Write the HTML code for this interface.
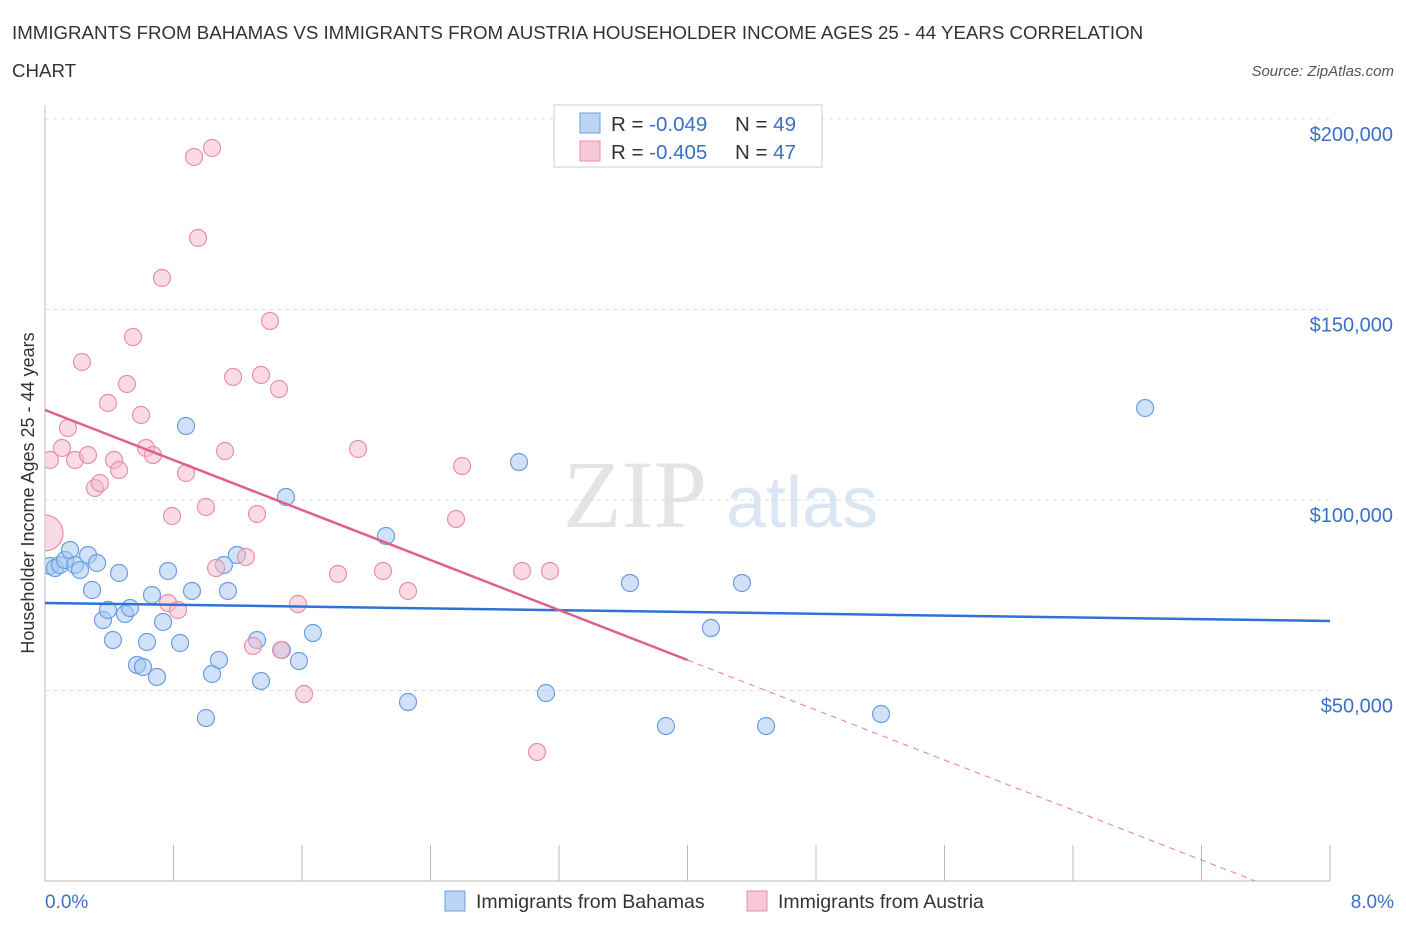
<!DOCTYPE html>
<html><head><meta charset="utf-8"><style>
body{margin:0;background:#fff;font-family:"Liberation Sans",sans-serif}
svg{display:block}
</style></head><body>
<svg id="c" width="1406" height="930" xmlns="http://www.w3.org/2000/svg">
<defs><clipPath id="pa"><rect x="45" y="100" width="1300" height="781"/></clipPath></defs>
<text x="12" y="39" font-size="18.7" fill="#333">IMMIGRANTS FROM BAHAMAS VS IMMIGRANTS FROM AUSTRIA HOUSEHOLDER INCOME AGES 25 - 44 YEARS CORRELATION</text>
<text x="12" y="77" font-size="18.7" fill="#333">CHART</text>
<text x="1394" y="76" font-size="15" fill="#555" font-style="italic" text-anchor="end">Source: ZipAtlas.com</text>
<g>
<text x="635" y="527" font-size="96" fill="#e4e4e4" font-family="Liberation Serif" text-anchor="middle">ZIP</text>
<text x="802" y="527" font-size="72" fill="#dbe6f5" text-anchor="middle">atlas</text>
</g>
<g id="grid"></g><g id="axes"></g><g id="pts" clip-path="url(#pa)"></g><g id="lines"></g>
<text transform="translate(34,493) rotate(-90)" font-size="18" fill="#333" text-anchor="middle">Householder Income Ages 25 - 44 years</text>
<text x="45" y="908" font-size="19" fill="#3a70c8">0.0%</text>
<text x="1394" y="908" font-size="19" fill="#3a70c8" text-anchor="end">8.0%</text>
<g>
<rect x="554" y="105" width="268" height="62" fill="#fff" stroke="#ccc"/>
<rect x="580" y="113" width="20" height="20" fill="#bcd5f5" stroke="#6a9fe0"/>
<text x="611" y="131" font-size="20.5" fill="#333">R = <tspan fill="#3a70c8">-0.049</tspan></text>
<text x="735" y="131" font-size="20.5" fill="#333">N = <tspan fill="#3a70c8">49</tspan></text>
<rect x="580" y="141" width="20" height="20" fill="#f8c8d6" stroke="#e890a8"/>
<text x="611" y="159" font-size="20.5" fill="#333">R = <tspan fill="#3a70c8">-0.405</tspan></text>
<text x="735" y="159" font-size="20.5" fill="#333">N = <tspan fill="#3a70c8">47</tspan></text>
</g>
<g>
<rect x="445" y="891" width="20" height="20" fill="#bcd5f5" stroke="#6a9fe0"/>
<text x="476" y="908" font-size="19.5" fill="#333">Immigrants from Bahamas</text>
<rect x="747" y="891" width="20" height="20" fill="#f8c8d6" stroke="#e890a8"/>
<text x="778" y="908" font-size="19.5" fill="#333">Immigrants from Austria</text>
</g>
</svg>
<script>
const yTicks=[50000,100000,150000,200000];
const yTickLabels=["$50,000","$100,000","$150,000","$200,000"];
const xTicks=[0,0.8,1.6,2.4,3.2,4.0,4.8,5.6,6.4,7.2,8.0];
const bahamasX=[0.031,0.062,0.093,0.125,0.156,0.187,0.218,0.268,0.293,0.324,0.361,0.392,0.423,0.461,0.498,0.529,0.573,0.610,0.635,0.666,0.697,0.735,0.766,0.841,0.878,0.915,1.002,1.040,1.083,1.114,1.139,1.195,1.320,1.345,1.475,1.500,1.581,1.668,2.123,2.260,2.951,3.119,3.642,3.866,4.146,4.339,4.489,5.205,6.849];
const bahamasY=[82680,82150,82940,84250,86880,82940,81630,85570,76380,83470,68500,71130,63250,80840,70080,71650,56700,56170,62730,75070,53550,67980,81370,62470,119420,76120,42780,54330,58010,82940,76120,85570,63250,52500,60630,100790,57740,65090,90550,46980,109970,49340,78220,40680,66400,78220,40680,43830,124150];
const austriaX=[0,0.031,0.106,0.143,0.187,0.230,0.268,0.311,0.342,0.392,0.430,0.461,0.510,0.548,0.598,0.629,0.672,0.728,0.766,0.791,0.828,0.878,0.928,0.953,1.002,1.040,1.065,1.121,1.171,1.251,1.295,1.320,1.345,1.401,1.457,1.470,1.575,1.613,1.824,1.949,2.104,2.260,2.559,2.597,2.970,3.063,3.144];
const austriaY=[91340,110500,113650,118900,110500,136220,111810,103150,104460,125460,110500,107870,130450,142780,122310,113650,111810,158270,72970,95800,71130,107090,190030,168770,98160,192390,82150,112860,132290,85040,61680,96330,132810,146980,129130,60630,72700,49080,80580,113390,81370,76120,95010,108920,81370,33860,81370];
const bahamasTrend=[72970,-591];
const austriaTrend=[123620,-16405];
const X=v=>45+v/8*1285, Y=v=>881-v/50000*190.5;
const NS="http://www.w3.org/2000/svg";
function mk(p,t,a){const e=document.createElementNS(NS,t);for(const k in a)e.setAttribute(k,a[k]);document.getElementById(p).appendChild(e);return e;}
yTicks.forEach((v,i)=>{
 const g=mk('grid','line',{x1:45,x2:1330,y1:Y(v),y2:Y(v),stroke:'#dcdcdc','stroke-dasharray':'4,4'});
 
 
 const t=mk('grid','text',{x:1393,y:Y(v)+22,'font-size':20,fill:'#3a70c8','text-anchor':'end'});
 t.textContent=yTickLabels[i];
 
 
});
const ya=mk('axes','line',{x1:45,x2:45,y1:105,y2:881,stroke:'#bbb'});


const xa=mk('axes','line',{x1:45,x2:1330,y1:881,y2:881,stroke:'#bbb'});


xTicks.forEach(v=>{
 const t=mk('axes','line',{x1:X(v),x2:X(v),y1:845,y2:881,stroke:'#bbb'});
 
 
});
bahamasX.forEach((v,i)=>{
 const c=mk('pts','circle',{cx:X(v),cy:Y(bahamasY[i]),r:8.5,fill:'rgba(164,198,242,0.5)',stroke:'#6a9fe0','stroke-width':1.2});
 
 
});
austriaX.forEach((v,i)=>{
 const c=mk('pts','circle',{cx:X(v),cy:Y(austriaY[i]),r:i==0?18:8.5,fill:'rgba(246,184,204,0.5)',stroke:'#e890a8','stroke-width':1.2});
 
 
});
const bl=mk('lines','line',{x1:X(0),y1:Y(bahamasTrend[0]),x2:X(8),y2:Y(bahamasTrend[0]+8*bahamasTrend[1]),stroke:'#2f72d6','stroke-width':2.5});


const xs=4.0, x0=-austriaTrend[0]/austriaTrend[1];
const pl=mk('lines','line',{x1:X(0),y1:Y(austriaTrend[0]),x2:X(xs),y2:Y(austriaTrend[0]+xs*austriaTrend[1]),stroke:'#e0608a','stroke-width':2.5});


const pd=mk('lines','line',{x1:X(xs),y1:Y(austriaTrend[0]+xs*austriaTrend[1]),x2:X(x0),y2:Y(0),stroke:'#e890a8','stroke-width':1.2,'stroke-dasharray':'6,5'});


</script>
</body></html>
